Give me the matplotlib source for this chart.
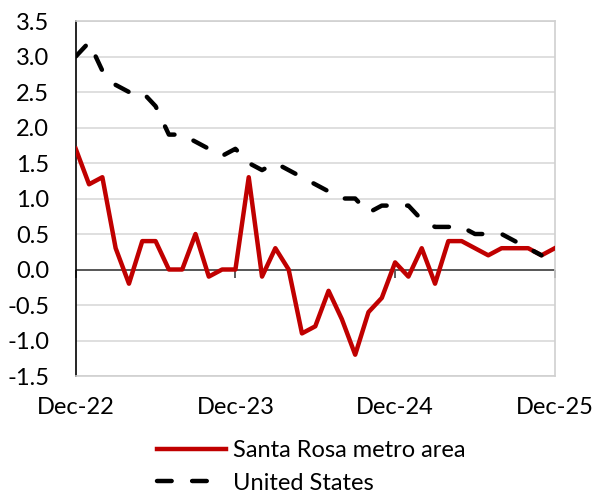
import matplotlib
matplotlib.use("Agg")
import matplotlib.pyplot as plt

plt.rcParams['font.family'] = ['Lato', 'DejaVu Sans']

months = list(range(37))
santa_rosa = [1.7, 1.2, 1.3, 0.3, -0.2, 0.4, 0.4, 0.0, 0.0, 0.5, -0.1, 0.0,
              0.0, 1.3, -0.1, 0.3, 0.0, -0.9, -0.8, -0.3, -0.7, -1.2, -0.6, -0.4,
              0.1, -0.1, 0.3, -0.2, 0.4, 0.4, 0.3, 0.2, 0.3, 0.3, 0.3, 0.2, 0.3]
us_months = list(range(36))
united_states = [3.0, 3.2, 2.8, 2.6, 2.5, 2.5, 2.3, 1.9, 1.9, 1.8, 1.7, 1.6,
                 1.7, 1.5, 1.4, 1.5, 1.4, 1.3, 1.2, 1.1, 1.0, 1.0, 0.8, 0.9,
                 0.9, 0.9, 0.7, 0.6, 0.6, 0.6, 0.5, 0.5, 0.5, 0.4, 0.3, 0.2]
tick_pos = [0, 12, 24, 36]
tick_labels = ['Dec-22', 'Dec-23', 'Dec-24', 'Dec-25']
y_ticks = [-1.5, -1.0, -0.5, 0.0, 0.5, 1.0, 1.5, 2.0, 2.5, 3.0, 3.5]

fig = plt.figure(figsize=(5.94, 4.93), dpi=100)
ax = fig.add_axes([0.1275, 0.2373, 0.8065, 0.7201])

ax.plot(months, santa_rosa, color='#c00000', lw=3.2, solid_joinstyle='round',
        label='Santa Rosa metro area', zorder=3)
ax.plot(us_months, united_states, color='black', lw=3.2, dashes=(3.3, 4.6),
        dash_capstyle='round', label='United States', zorder=3)

ax.set_xlim(0, 36)
ax.set_ylim(-1.5, 3.5)
ax.set_yticks(y_ticks)
ax.set_yticklabels([f'{v:.1f}' for v in y_ticks])
ax.yaxis.grid(True, color='#d9d9d9', lw=1.2, zorder=0)
ax.set_axisbelow(True)
ax.tick_params(axis='y', length=0, pad=19, labelsize=17)

ax.axhline(0, color='#404040', lw=1.2, zorder=2)

# ticks on the zero line
sec = ax.secondary_xaxis((0 - (-1.5)) / (3.5 - (-1.5)))
sec.set_xticks(tick_pos)
sec.set_xticklabels([])
sec.tick_params(direction='out', length=6, width=1.2, color='#404040')
sec.spines['bottom'].set_visible(False)

ax.set_xticks(tick_pos)
ax.set_xticklabels(tick_labels)
ax.tick_params(axis='x', length=0, pad=15, labelsize=17)

for s in ['top', 'right', 'bottom']:
    ax.spines[s].set_color('#d0d0d0')
    ax.spines[s].set_linewidth(1.2)
ax.spines['left'].set_color('black')
ax.spines['left'].set_linewidth(1.2)

leg = fig.legend(loc='upper left', bbox_to_anchor=(0.2485, 0.127), frameon=False,
                 fontsize=17, handlelength=2.9, handletextpad=0.3,
                 labelspacing=0.5, borderaxespad=0)

fig.savefig('out.png', dpi=100)
